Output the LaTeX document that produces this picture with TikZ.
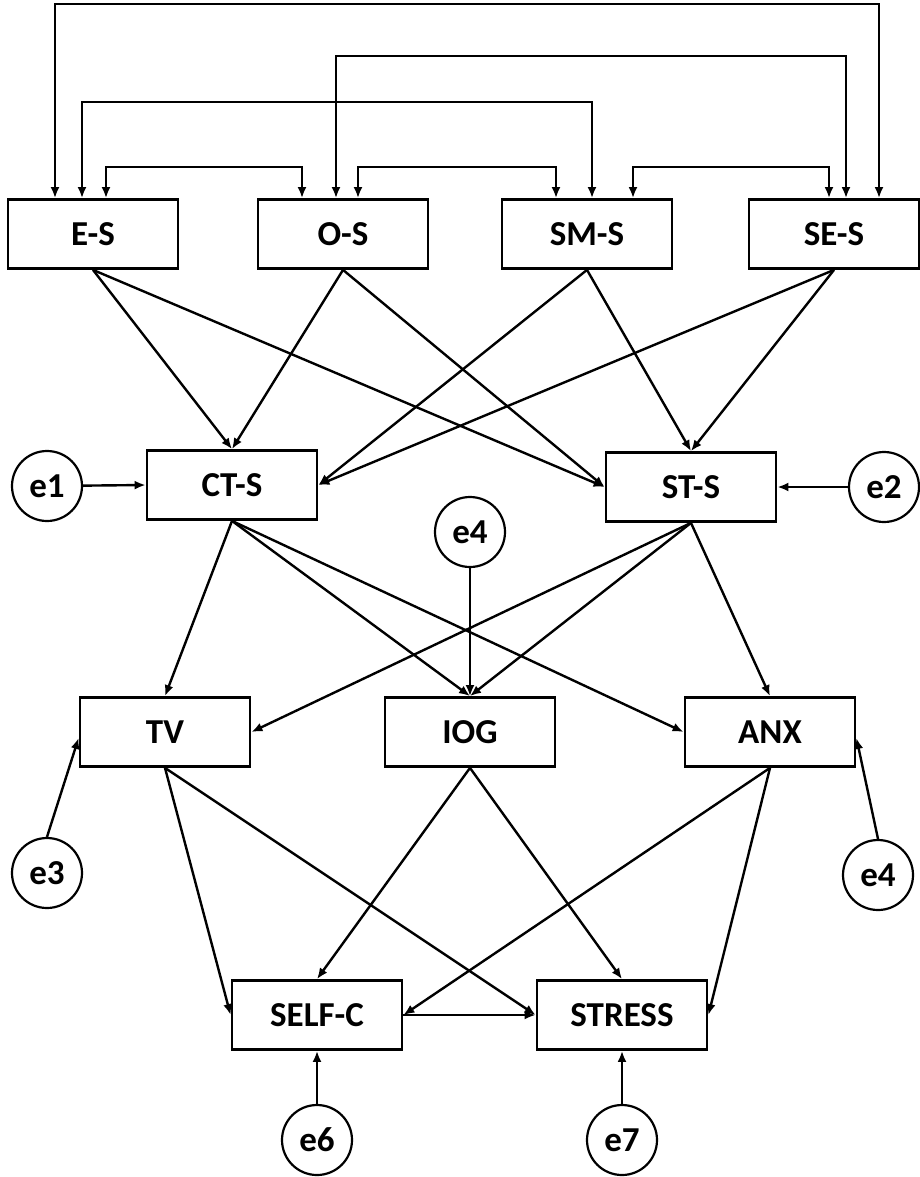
\documentclass[tikz,border=0pt]{standalone}
\usepackage{fontspec}
\setmainfont{Carlito}
\usetikzlibrary{arrows.meta}

\begin{document}
\begin{tikzpicture}[x=0.5pt,y=-0.5pt,
  box/.style={draw, line width=1.4pt, minimum width=85pt, minimum height=34.5pt, inner sep=0pt, font=\fontsize{17.5}{20}\selectfont\bfseries},
  err/.style={draw, circle, line width=1.1pt, minimum size=35pt, inner sep=0pt, font=\fontsize{17.5}{20}\selectfont\bfseries},
  flow/.style={-{Latex[length=5.5pt,width=4.5pt]}, line width=1.2pt},
  cov/.style={{Latex[length=5.5pt,width=4.5pt]}-{Latex[length=5.5pt,width=4.5pt]}, line width=1.2pt}]

\useasboundingbox (0,0) rectangle (920,1177);

% Stressor boxes
\node[box] (ES)  at (93,234)  {E-S};
\node[box] (OS)  at (343,234) {O-S};
\node[box] (SMS) at (587,234) {SM-S};
\node[box] (SES) at (834,234) {SE-S};

% Mediators and outcomes
\node[box] (CTS) at (232,485) {CT-S};
\node[box] (STS) at (691,487) {ST-S};
\node[box] (TV)  at (165,732) {TV};
\node[box] (IOG) at (470,732) {IOG};
\node[box] (ANX) at (770,732) {ANX};
\node[box] (SELFC)  at (317,1015) {SELF-C};
\node[box] (STRESS) at (622,1015) {STRESS};

% Error terms
\node[err] (e1)  at (47,486)   {e1};
\node[err] (e2)  at (884,487)  {e2};
\node[err] (e4a) at (470,532)  {e4};
\node[err] (e3)  at (47,873)   {e3};
\node[err] (e4b) at (878,875)  {e4};
\node[err] (e6)  at (317,1140) {e6};
\node[err] (e7)  at (622,1140) {e7};

% Covariances between the stressors
\draw[cov] ([xshift=-19pt]ES.north) -- ++(0,-194) -| ([xshift=22.5pt]SES.north);
\draw[cov] ([xshift=-3.5pt]OS.north) -- ++(0,-142) -| ([xshift=6pt]SES.north);
\draw[cov] ([xshift=-5.5pt]ES.north) -- ++(0,-96) -| ([xshift=2.5pt]SMS.north);
\draw[cov] ([xshift=6.5pt]ES.north) -- ++(0,-31) -| ([xshift=-20.5pt]OS.north);
\draw[cov] ([xshift=7.5pt]OS.north) -- ++(0,-31) -| ([xshift=-15.5pt]SMS.north);
\draw[cov] ([xshift=23pt]SMS.north) -- ++(0,-31) -| ([xshift=-2.5pt]SES.north);

% Paths to the second row
\draw[flow] (ES.south) -- (CTS.north);
\draw[flow] (OS.south) -- (CTS.north);
\draw[flow] (SMS.south) -- (CTS.east);
\draw[flow] (SES.south) -- (CTS.east);
\draw[flow] (ES.south) -- (STS.west);
\draw[flow] (OS.south) -- (STS.west);
\draw[flow] (SMS.south) -- (STS.north);
\draw[flow] (SES.south) -- (STS.north);
\draw[flow] (e1) -- (CTS.west);
\draw[flow] (e2) -- (STS.east);

% Paths to the third row
\draw[flow] (CTS.south) -- (TV.north);
\draw[flow] (CTS.south) -- (IOG.north);
\draw[flow] (CTS.south) -- (ANX.west);
\draw[flow] (STS.south) -- (TV.east);
\draw[flow] (STS.south) -- (IOG.north);
\draw[flow] (STS.south) -- (ANX.north);
\draw[flow] (e4a) -- (IOG.north);
\draw[flow] (e3.north) -- ([yshift=-3pt]TV.west);
\draw[flow] (e4b.north) -- ([yshift=-3pt]ANX.east);

% Paths to the outcomes
\draw[flow] (TV.south) -- (SELFC.west);
\draw[flow] (TV.south) -- (STRESS.west);
\draw[flow] (IOG.south) -- (SELFC.north);
\draw[flow] (IOG.south) -- (STRESS.north);
\draw[flow] (ANX.south) -- (SELFC.east);
\draw[flow] (ANX.south) -- (STRESS.east);
\draw[flow] (SELFC.east) -- (STRESS.west);
\draw[flow] (e6) -- (SELFC.south);
\draw[flow] (e7) -- (STRESS.south);

\end{tikzpicture}
\end{document}
